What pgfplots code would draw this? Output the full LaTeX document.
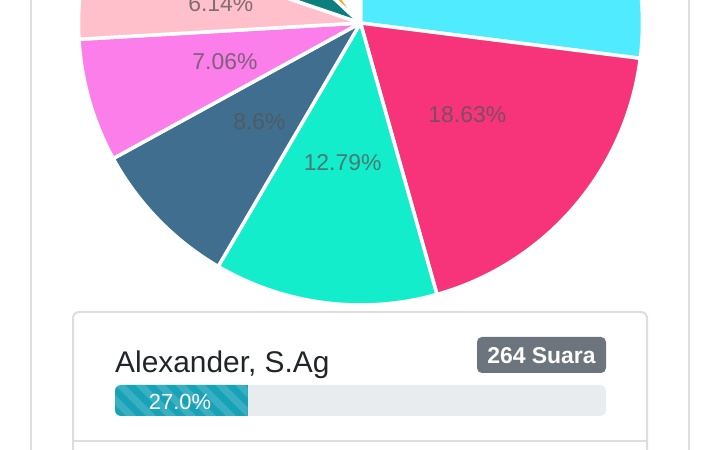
\documentclass[border=0pt]{standalone}
\usepackage{pgfplots}
\pgfplotsset{compat=1.18}
\usepackage{pgfplotstable}
\usepackage{fontspec}
\setmainfont{Liberation Sans}

\definecolor{pcyan}{HTML}{50EBFF}
\definecolor{pred}{HTML}{F7347A}
\definecolor{pteal}{HTML}{13EDCB}
\definecolor{pnavy}{HTML}{3F6E8F}
\definecolor{pmagenta}{HTML}{FC7EEA}
\definecolor{ppink}{HTML}{FFBFCB}
\definecolor{pdteal}{HTML}{0A7F7E}
\definecolor{porange}{HTML}{F2A81D}
\definecolor{pblank}{HTML}{FFFFFF}
\definecolor{cardline}{HTML}{DEDEDE}
\definecolor{badge}{HTML}{6C757D}
\definecolor{barbg}{HTML}{E9ECEF}
\definecolor{barfg}{HTML}{17A2B8}
\definecolor{nametext}{HTML}{212529}
\definecolor{pielabel}{HTML}{555555}

% vote share per candidate, clockwise from 12 o'clock
\pgfplotstableread{
pct   col
27.00 pcyan
18.63 pred
12.79 pteal
8.60  pnavy
7.06  pmagenta
6.14  ppink
6.70  pdteal
3.20  porange
9.88  pblank
}\piedata

\begin{document}
\begin{tikzpicture}
\useasboundingbox (0,0) rectangle (720bp,450bp);
\begin{axis}[
  at={(0,0)}, anchor=south west,
  width=720bp, height=450bp, scale only axis,
  xmin=0, xmax=720, ymin=0, ymax=450,
  hide axis, clip=true,
]
% outer page card
\draw[cardline, line width=2bp] (axis cs:31,0) -- (axis cs:31,450);
\draw[cardline, line width=2bp] (axis cs:689,0) -- (axis cs:689,450);

% pie slices
\pgfplotstablegetrowsof{\piedata}
\pgfmathtruncatemacro\nrows{\pgfplotsretval-1}
\def\curang{90}
\pgfplotsforeachungrouped \i in {0,...,\nrows}{%
  \pgfplotstablegetelem{\i}{pct}\of\piedata \let\p\pgfplotsretval
  \pgfplotstablegetelem{\i}{col}\of\piedata \let\c\pgfplotsretval
  \pgfmathsetmacro\endang{\curang-3.6*\p}
  \edef\tmp{\noexpand\fill[\c, draw=white, line width=3.5bp, line join=round]
    (axis cs:360.5,427) -- ++(\curang:282bp)
    arc[start angle=\curang, end angle=\endang, radius=282bp] -- cycle;}
  \tmp
  \let\curang\endang
}

% slice labels (only those that fall on the visible part)
\def\curang{90}
\pgfplotsforeachungrouped \i in {0,...,\nrows}{%
  \pgfplotstablegetelem{\i}{pct}\of\piedata \let\p\pgfplotsretval
  \pgfmathsetmacro\endang{\curang-3.6*\p}
  \pgfmathsetmacro\midang{(\curang+\endang)/2}
  \pgfmathsetmacro\lx{360.5+141*cos(\midang)}
  \pgfmathsetmacro\ly{427+141*sin(\midang)}
  \pgfmathparse{\ly<455 ? 1 : 0}
  \ifnum\pgfmathresult=1
    \edef\tmp{\noexpand\node[text=pielabel, text opacity=0.75, inner sep=0,
      font=\noexpand\fontsize{23}{28}\noexpand\selectfont]
      at (axis cs:\lx,\ly) {\noexpand\pgfmathprintnumber[assume math mode=true]{\p}\noexpand\%};}
    \tmp
  \fi
  \let\curang\endang
}

% candidate card
\draw[cardline, line width=2bp, rounded corners=6bp]
  (axis cs:73,-30) -- (axis cs:73,138) -- (axis cs:647,138) -- (axis cs:647,-30);
\draw[cardline, line width=2bp] (axis cs:73,9) -- (axis cs:647,9);

\node[anchor=base west, inner sep=0, text=nametext,
  font=\fontsize{30}{36}\selectfont] at (axis cs:115,78) {Alexander, S.Ag};

\fill[badge, rounded corners=5bp] (axis cs:477,77) rectangle (axis cs:606,113);
\node[anchor=base, inner sep=0, text=white,
  font=\bfseries\fontsize{23}{28}\selectfont] at (axis cs:541.5,87) {264 Suara};

% progress bar
\fill[barbg, rounded corners=6bp] (axis cs:115,34) rectangle (axis cs:606,65);
\fill[barfg, rounded corners=6bp] (axis cs:115,34) rectangle (axis cs:247.6,65);
\fill[barfg] (axis cs:135,34) rectangle (axis cs:247.6,65);
\begin{scope}
  \clip (axis cs:115,34) rectangle (axis cs:247.6,65);
  \pgfplotsforeachungrouped \k in {-3,...,8}{%
    \pgfmathsetmacro\sa{115+20*\k}
    \edef\tmp{\noexpand\fill[white, opacity=0.15]
      (axis cs:\sa,65) -- (axis cs:\sa+10,65) -- (axis cs:\sa+41,34) -- (axis cs:\sa+31,34) -- cycle;}
    \tmp
  }
\end{scope}
\node[anchor=base, inner sep=0, text=white,
  font=\fontsize{22}{26}\selectfont] at (axis cs:180,41) {27.0\%};
\end{axis}
\end{tikzpicture}
\end{document}
